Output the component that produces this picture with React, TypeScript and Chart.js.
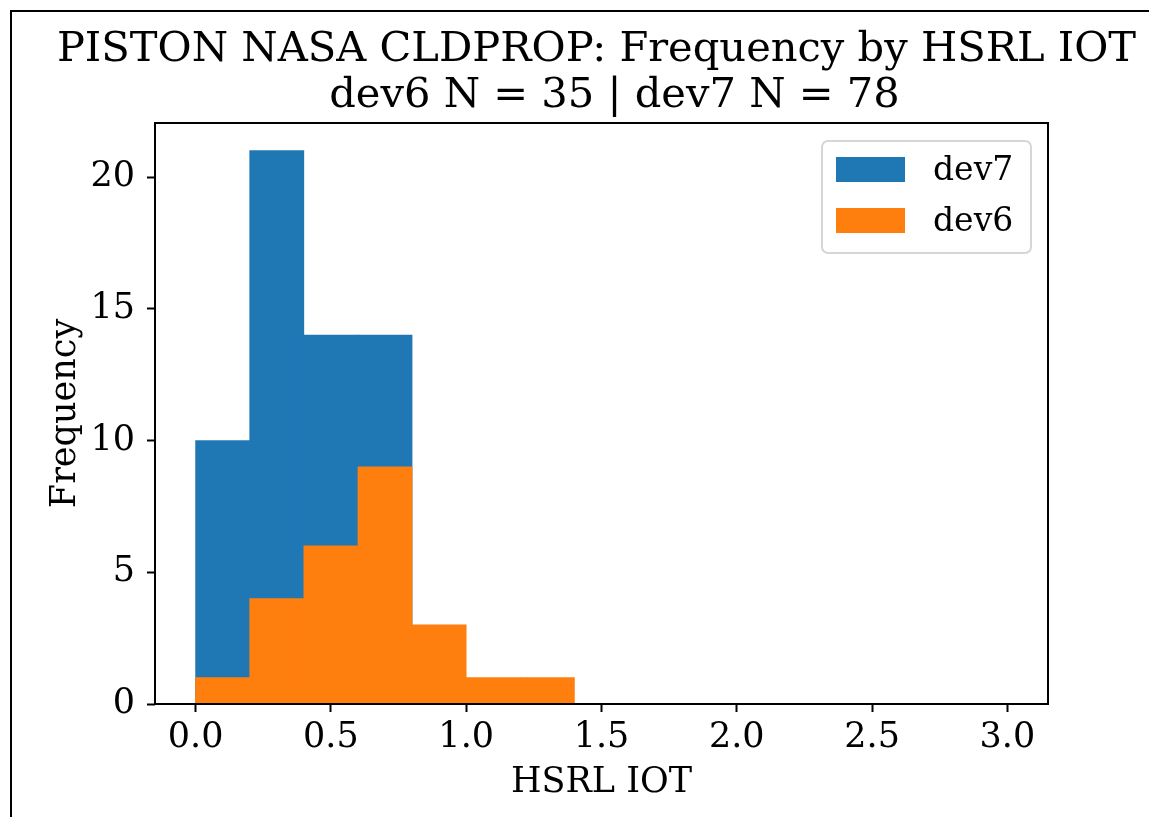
import { useEffect, useRef } from "react";
import { Chart, registerables } from "chart.js";

Chart.register(...registerables);

// Histogram bins (edges) and counts per device
const binEdges = [0, 0.2, 0.4, 0.6, 0.8, 1.0, 1.2, 1.4, 1.6, 1.8, 2.0, 2.2, 2.4, 2.6, 2.8, 3.0];
const dev7Counts = [10, 21, 14, 14, 0, 0, 0, 0, 0, 0, 0, 0, 0, 0, 0];
const dev6Counts = [1, 4, 6, 9, 3, 1, 1, 0, 0, 0, 0, 0, 0, 0, 0];

const xTickValues = [0, 0.5, 1.0, 1.5, 2.0, 2.5, 3.0];
const yTickValues = [0, 5, 10, 15, 20];

const titleLines = ["PISTON NASA CLDPROP: Frequency by HSRL IOT", "dev6 N = 35 | dev7 N = 78"];
const xAxisLabel = "HSRL IOT";
const yAxisLabel = "Frequency";
const seriesLabels = ["dev7", "dev6"];

const BLUE = "#1f77b4";
const ORANGE = "#ff7f0e";
const FONT = "'DejaVu Serif', serif";

const toPoints = (counts: number[]) =>
  counts.map((c, i) => ({ x: (binEdges[i] + binEdges[i + 1]) / 2, y: c }));

const decorPlugin = {
  id: "decor",
  afterDatasetsDraw(chart: any) {
    const { ctx, chartArea: a } = chart;
    ctx.save();
    // axes frame on top of bars
    ctx.strokeStyle = "#000";
    ctx.lineWidth = 2;
    ctx.strokeRect(a.left, a.top, a.right - a.left, a.bottom - a.top);

    // legend box
    const bx = 822, by = 141, bw = 209, bh = 112, r = 6;
    ctx.beginPath();
    ctx.moveTo(bx + r, by);
    ctx.arcTo(bx + bw, by, bx + bw, by + bh, r);
    ctx.arcTo(bx + bw, by + bh, bx, by + bh, r);
    ctx.arcTo(bx, by + bh, bx, by, r);
    ctx.arcTo(bx, by, bx + bw, by, r);
    ctx.closePath();
    ctx.fillStyle = "rgba(255,255,255,0.8)";
    ctx.fill();
    ctx.strokeStyle = "#d6d6d6";
    ctx.lineWidth = 2;
    ctx.stroke();

    const ds = chart.data.datasets;
    const rows = seriesLabels.map((lbl) => ds.find((d: any) => d.label === lbl));
    ctx.font = `33px ${FONT}`;
    ctx.textAlign = "left";
    ctx.textBaseline = "alphabetic";
    rows.forEach((d: any, i: number) => {
      const py = 157 + i * 51;
      ctx.fillStyle = d.backgroundColor;
      ctx.fillRect(836, py, 69, 25);
      ctx.fillStyle = "#000";
      ctx.fillText(d.label, 933, py + 23);
    });
    ctx.restore();
  },
  afterDraw(chart: any) {
    const { ctx, chartArea: a } = chart;
    const cx = (a.left + a.right) / 2;
    const cy = (a.top + a.bottom) / 2;
    ctx.save();
    ctx.fillStyle = "#000";
    ctx.textAlign = "center";
    ctx.textBaseline = "alphabetic";
    ctx.font = `41.6px ${FONT}`;
    ctx.fillText(titleLines[0], cx - 5, 61);
    ctx.fillText(titleLines[1], cx + 13, 107);

    ctx.font = `35px ${FONT}`;
    ctx.fillText(xAxisLabel, cx, 792);

    ctx.translate(75, cy);
    ctx.rotate(-Math.PI / 2);
    ctx.fillText(yAxisLabel, 0, 0);
    ctx.restore();

    // outer frame
    ctx.save();
    ctx.strokeStyle = "#000";
    ctx.lineWidth = 2;
    ctx.beginPath();
    ctx.moveTo(11, 817);
    ctx.lineTo(11, 11);
    ctx.lineTo(1149, 11);
    ctx.stroke();
    ctx.restore();
  },
};

export default function App() {
  const canvasRef = useRef<HTMLCanvasElement | null>(null);

  useEffect(() => {
    const canvas = canvasRef.current;
    if (!canvas) return;
    const span = binEdges[binEdges.length - 1] - binEdges[0];
    const xMin = binEdges[0] - 0.05 * span;
    const xMax = binEdges[binEdges.length - 1] + 0.05 * span;
    const yMax = Math.max(...dev7Counts, ...dev6Counts) * 1.05;

    const chart = new Chart(canvas, {
      type: "bar",
      data: {
        datasets: [
          {
            label: "dev7",
            data: toPoints(dev7Counts),
            backgroundColor: BLUE,
            borderWidth: 0,
            order: 1,
          },
          {
            label: "dev6",
            data: toPoints(dev6Counts),
            backgroundColor: ORANGE,
            borderWidth: 0,
            order: 0,
          },
        ],
      },
      options: {
        responsive: false,
        animation: false,
        devicePixelRatio: 1,
        layout: { padding: { top: 123, right: 101, left: 0, bottom: 0 } },
        datasets: {
          bar: { grouped: false, barPercentage: 1, categoryPercentage: 1 },
        },
        plugins: {
          legend: { display: false },
          title: { display: false },
          tooltip: { enabled: false },
        },
        scales: {
          x: {
            type: "linear",
            min: xMin,
            max: xMax,
            offset: false,
            afterBuildTicks: (axis: any) => {
              axis.ticks = xTickValues.map((v) => ({ value: v }));
            },
            afterFit: (axis: any) => {
              axis.height = 113;
            },
            grid: {
              display: true,
              offset: false,
              drawOnChartArea: false,
              drawTicks: true,
              tickLength: 8,
              tickWidth: 2,
              tickColor: "#000",
            },
            border: { display: false },
            ticks: {
              color: "#000",
              font: { family: FONT, size: 35 },
              padding: 5,
              maxRotation: 0,
              autoSkip: false,
              callback: (v: any) => Number(v).toFixed(1),
            },
          },
          y: {
            type: "linear",
            min: 0,
            max: yMax,
            afterBuildTicks: (axis: any) => {
              axis.ticks = yTickValues.map((v) => ({ value: v }));
            },
            afterFit: (axis: any) => {
              axis.width = 155;
            },
            grid: {
              display: true,
              drawOnChartArea: false,
              drawTicks: true,
              tickLength: 8,
              tickWidth: 2,
              tickColor: "#000",
            },
            border: { display: false },
            ticks: {
              color: "#000",
              font: { family: FONT, size: 35 },
              padding: 12,
              autoSkip: false,
              callback: (v: any) => String(v),
            },
          },
        },
      },
      plugins: [decorPlugin],
    });
    return () => chart.destroy();
  }, []);

  return (
    <div style={{ position: "fixed", left: 0, top: 0, width: 1149, height: 817, background: "#fff" }}>
      <canvas ref={canvasRef} width={1149} height={817} style={{ display: "block" }} />
    </div>
  );
}
